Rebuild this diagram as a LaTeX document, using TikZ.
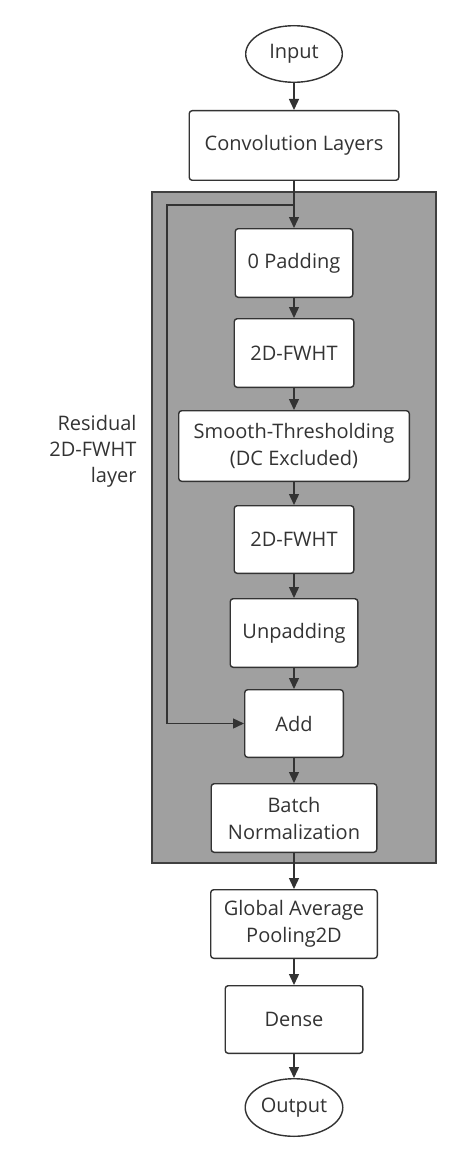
\documentclass[tikz,border=0pt]{standalone}
\usepackage{fontspec}
\setmainfont{Open Sans}
\usetikzlibrary{shapes.geometric, arrows.meta, positioning, calc}
\definecolor{lineclr}{HTML}{333333}
\definecolor{blockclr}{HTML}{A0A0A0}
\definecolor{blockedge}{HTML}{404040}
\tikzset{
  nn node/.style={
    rectangle, rounded corners=3pt, draw=lineclr, fill=white,
    line width=1.4pt, minimum height=68.6pt,
    text centered, align=center, text=lineclr,
    font=\fontsize{20}{27}\selectfont, inner sep=2pt
  },
  nn terminal/.style={
    ellipse, draw=lineclr, fill=white, line width=1.4pt,
    minimum width=96.6pt, minimum height=56.6pt, text=lineclr,
    font=\fontsize{20}{27}\selectfont, inner sep=0pt
  },
  nn arrow/.style={
    -{Triangle[length=11pt,width=10pt]}, line width=1.4pt, draw=lineclr
  },
  nn block/.style={
    draw=blockedge, fill=blockclr, line width=1.6pt
  },
  nn label/.style={
    font=\fontsize{20}{26}\selectfont, align=right, text=lineclr
  }
}
\begin{document}
\begin{tikzpicture}[x=1pt, y=1pt, node distance=22pt]
  \useasboundingbox (0,0) rectangle (459,-1161);
  % residual block background
  \draw [nn block] (152,-192) rectangle (436,-863);
  \node (lbl) [nn label, anchor=east] at (140,-451) {Residual\\2D-FWHT\\layer};

  \node (in) [nn terminal] at (294,-54) {Input};
  \node (conv) [nn node, minimum width=209.6pt, minimum height=69.6pt, below=27pt of in] {Convolution Layers};
  \node (pad) [nn node, minimum width=117.6pt, below=47pt of conv] {0 Padding};
  \node (fwht1) [nn node, minimum width=119.6pt, below=20pt of pad] {2D-FWHT};
  \node (thr) [nn node, minimum width=230.6pt, minimum height=70.6pt, below=22pt of fwht1] {Smooth-Thresholding\\(DC Excluded)};
  \node (fwht2) [nn node, minimum width=119.6pt, minimum height=67.6pt, below=23pt of thr] {2D-FWHT};
  \node (unpad) [nn node, minimum width=127.6pt, below=24pt of fwht2] {Unpadding};
  \node (add) [nn node, minimum width=98.6pt, minimum height=67.6pt, below=21pt of unpad] {Add};
  \node (bn) [nn node, minimum width=165.6pt, below=25pt of add] {Batch\\Normalization};
  \node (gap) [nn node, minimum width=166.6pt, below=36pt of bn] {Global Average\\Pooling2D};
  \node (dense) [nn node, minimum width=137.6pt, minimum height=67.6pt, below=26pt of gap] {Dense};
  \node (out) [nn terminal, minimum width=97.6pt, minimum height=57.6pt, below=24pt of dense] {Output};

  \coordinate (split) at ($(conv.south)+(0,-24)$);
  \coordinate (skip) at ($(split)+(-127,0)$);

  \draw [nn arrow] (in) -- (conv);
  \draw [nn arrow] (conv) -- (pad);
  \draw [nn arrow] (pad) -- (fwht1);
  \draw [nn arrow] (fwht1) -- (thr);
  \draw [nn arrow] (thr) -- (fwht2);
  \draw [nn arrow] (fwht2) -- (unpad);
  \draw [nn arrow] (unpad) -- (add);
  \draw [nn arrow] (split) -- (skip) |- (add.west);
  \draw [nn arrow] (add) -- (bn);
  \draw [nn arrow] (bn) -- (gap);
  \draw [nn arrow] (gap) -- (dense);
  \draw [nn arrow] (dense) -- (out);
\end{tikzpicture}
\end{document}
